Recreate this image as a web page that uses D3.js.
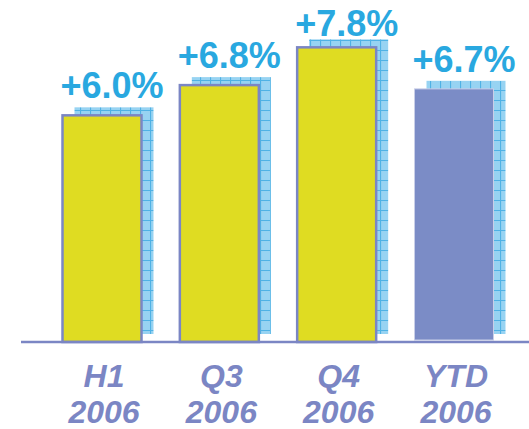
<!DOCTYPE html>
<html>
<head>
<meta charset="utf-8">
<script src="https://cdn.jsdelivr.net/npm/d3@7"></script>
<style>
  body { margin: 0; background: #fff; }
  svg { display: block; font-family: "Liberation Sans", Arial, sans-serif; }
</style>
</head>
<body>
<svg id="chart"></svg>
<script>
// periods and growth figures
const periods = ['H1', 'Q3', 'Q4', 'YTD'];
const years = ['2006', '2006', '2006', '2006'];
const growth = [6.0, 6.8, 7.8, 6.7];
const growthLabels = ['+6.0%', '+6.8%', '+7.8%', '+6.7%'];

const width = 529, height = 429;
const baseY = 342;
const barW = 79;
const shadowDx = 12, shadowDy = -8;

const data = periods.map((p, i) => ({period: p, year: years[i], value: growth[i], label: growthLabels[i], ytd: p === 'YTD'}));

const svg = d3.select('#chart')
    .attr('width', width)
    .attr('height', height);

// shadow texture: light blue with a grid
const defs = svg.append('defs');
const pat = defs.append('pattern')
    .attr('id', 'grid')
    .attr('patternUnits', 'userSpaceOnUse')
    .attr('width', 10)
    .attr('height', 10);
pat.append('rect').attr('width', 10).attr('height', 10).attr('fill', '#97d3f2');
pat.append('path')
    .attr('d', 'M0,0.5H10M0.5,0V10')
    .attr('stroke', '#4fb2e5')
    .attr('stroke-width', 1.2);

const x = d3.scalePoint()
    .domain(periods)
    .range([102, 454]);

const y = d3.scaleLinear()
    .domain([0, 9])
    .range([baseY, 2]);

// shadows
svg.append('g')
    .selectAll('rect')
    .data(data)
    .join('rect')
    .attr('x', d => x(d.period) - barW / 2 + shadowDx)
    .attr('y', d => y(d.value) + shadowDy)
    .attr('width', barW)
    .attr('height', d => baseY - y(d.value))
    .attr('fill', 'url(#grid)');

// bars
svg.append('g')
    .selectAll('rect')
    .data(data)
    .join('rect')
    .attr('x', d => x(d.period) - barW / 2)
    .attr('y', d => y(d.value))
    .attr('width', barW)
    .attr('height', d => baseY - y(d.value) - (d.ytd ? 2 : 0))
    .attr('fill', d => d.ytd ? '#7b8cc6' : '#dfdc22')
    .attr('stroke', d => d.ytd ? '#c9cfe8' : '#7b86c4')
    .attr('stroke-width', d => d.ytd ? 1 : 2.5);

// baseline
svg.append('line')
    .attr('x1', 21).attr('x2', width)
    .attr('y1', baseY).attr('y2', baseY)
    .attr('stroke', '#7b86c4')
    .attr('stroke-width', 2.5);

// value labels
svg.append('g')
    .selectAll('text')
    .data(data)
    .join('text')
    .attr('x', d => x(d.period) + 10)
    .attr('y', d => Math.max(y(d.value) - 17, 36))
    .attr('text-anchor', 'middle')
    .attr('font-size', 36)
    .attr('font-weight', 'bold')
    .attr('fill', '#29a8e0')
    .text(d => d.label);

// category labels, two lines
const cat = svg.append('g')
    .selectAll('text')
    .data(data)
    .join('text')
    .attr('text-anchor', 'middle')
    .attr('font-size', 32)
    .attr('font-weight', 'bold')
    .attr('font-style', 'italic')
    .attr('fill', '#7b86c4');
cat.append('tspan')
    .attr('x', d => x(d.period) + 2)
    .attr('y', 387)
    .text(d => d.period);
cat.append('tspan')
    .attr('x', d => x(d.period) + 2)
    .attr('y', 423)
    .text(d => d.year);
</script>
</body>
</html>
